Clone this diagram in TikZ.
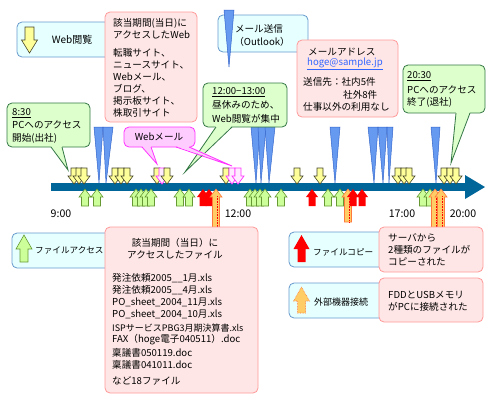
\documentclass[tikz,border=0pt]{standalone}
\usepackage{fontspec}
\setmainfont{Noto Sans CJK JP}
\definecolor{barc}{RGB}{0,102,153}
\definecolor{spikefill}{RGB}{102,153,240}
\definecolor{spikedraw}{RGB}{51,102,204}
\definecolor{yfill}{RGB}{255,255,153}
\definecolor{ydraw}{RGB}{70,70,40}
\definecolor{gfill}{RGB}{204,255,153}
\definecolor{gdraw}{RGB}{102,153,51}
\definecolor{ofill}{RGB}{255,204,102}
\definecolor{odraw}{RGB}{255,120,60}
\definecolor{legfill}{RGB}{230,255,255}
\definecolor{legdraw}{RGB}{102,153,204}
\definecolor{pinkfill}{RGB}{255,230,230}
\definecolor{pinkdraw}{RGB}{255,153,153}
\definecolor{calfill}{RGB}{221,255,204}
\definecolor{caldraw}{RGB}{51,119,68}
\definecolor{magfill}{RGB}{255,204,255}
\definecolor{magdraw}{RGB}{255,51,255}
\definecolor{maglight}{RGB}{255,235,255}
\definecolor{linkblue}{RGB}{51,102,255}
\newcommand{\ydn}[1]{\draw[ydraw,fill=yfill,line width=0.6pt] (#1-3,168) -- (#1+3,168) -- (#1+3,176) -- (#1+6,176) -- (#1,184) -- (#1-6,176) -- (#1-3,176) -- cycle;}
\newcommand{\mdn}[1]{\draw[magdraw,fill=maglight,line width=0.7pt] (#1-3,168) -- (#1+3,168) -- (#1+3,176) -- (#1+6,176) -- (#1,184) -- (#1-6,176) -- (#1-3,176) -- cycle;}
\newcommand{\gup}[1]{\draw[gdraw,fill=gfill,line width=0.6pt] (#1,189) -- (#1+6,197) -- (#1+3.5,197) -- (#1+3.5,206) -- (#1-3.5,206) -- (#1-3.5,197) -- (#1-6,197) -- cycle;}
\newcommand{\rup}[1]{\fill[red] (#1,189) -- (#1+6,197) -- (#1+3.5,197) -- (#1+3.5,206) -- (#1-3.5,206) -- (#1-3.5,197) -- (#1-6,197) -- cycle;}
\newcommand{\oup}[2]{\draw[odraw,fill=ofill,line width=0.6pt] (#1,189) -- (#1+6,197) -- (#1+3.5,197) -- (#1+3.5,#2) -- (#1-3.5,#2) -- (#1-3.5,197) -- (#1-6,197) -- cycle;
  \draw[red,densely dotted,line width=0.6pt] (#1+1,196) -- (#1+1,#2);}
\newcommand{\spk}[3]{\draw[spikedraw,fill=spikefill,line width=0.5pt] (#1,127) -- (#2,127) -- (#3,183) -- cycle;}
\begin{document}
\begin{tikzpicture}[x=1pt,y=-1pt,
  every node/.style={inner sep=0pt, font=\fontsize{9.6}{12}\selectfont},
  lt/.style={anchor=west},
  legbox/.style={draw=legdraw, fill=legfill, rounded corners=5pt, line width=0.8pt},
  pinkbox/.style={draw=pinkdraw, fill=pinkfill, rounded corners=5pt, line width=0.8pt},
  calbox/.style={draw=caldraw, fill=calfill, rounded corners=5pt, line width=0.8pt},
  magbox/.style={draw=magdraw, fill=magfill, rounded corners=5pt, line width=0.8pt},
  small/.style={font=\fontsize{8.6}{10}\selectfont},
  mid/.style={font=\fontsize{9}{11}\selectfont},
  timelab/.style={font=\fontsize{10.6}{12}\selectfont}]
\useasboundingbox (0,0) rectangle (490,400);
\fill[white] (0,0) rectangle (490,400);

% ---------- timeline bar ----------
\fill[barc] (51,183) rectangle (466,191);
\fill[barc] (465,175) -- (485,187) -- (465,199) -- cycle;

% ---------- mail spikes ----------
\spk{94}{103}{99}
\spk{103}{113}{106}
\spk{251}{260}{256}
\spk{258}{266}{261}
\spk{265}{275}{269}
\spk{330}{340}{335}
\spk{368}{378}{374}
\spk{378}{387}{383}
\spk{387}{393}{389}
\spk{431}{440}{436}

% ---------- web access arrows ----------
\ydn{74}\ydn{79}\ydn{84}
\ydn{115}\ydn{121}\ydn{127}
\ydn{157}\mdn{162}\ydn{167}
\ydn{226}\mdn{232}\mdn{238}
\ydn{297}
\ydn{320}
\ydn{398}\ydn{404}\ydn{409}
\ydn{444}\ydn{450}\ydn{456}

% ---------- file access / copy / device arrows ----------
\gup{85}\gup{97}
\gup{136}\gup{141}\gup{146}\gup{151}
\gup{180}\gup{189}
\rup{203}\rup{209}
\oup{216}{228}
\gup{250}\gup{255}\gup{260}\gup{265}
\gup{281}
\rup{312}
\gup{328}\gup{340}
\oup{348}{222}
\rup{353}\rup{362}
\gup{423}\gup{430}
\oup{435}{228}\oup{441}{228}

% ---------- time labels ----------
\node[timelab] (t9) at (61,214) {9:00};
\node[timelab] (t12) at (238,214) {12:00};
\node[timelab] (t17) at (402,214) {17:00};
\node[timelab] (t20) at (463,214) {20:00};

% ---------- legend: web ----------
\draw[legbox] (17,22) rectangle (118,57);
\draw[ydraw,fill=yfill,line width=0.6pt] (25,27) -- (34,27) -- (34,40) -- (37.5,40) -- (29.5,53) -- (21.5,40) -- (25,40) -- cycle;
\node[font=\fontsize{10}{12}\selectfont] (lweb) at (72,40) {Web閲覧};

% ---------- pink: web sites ----------
\draw[pinkbox] (105,12) rectangle (197,122);
\node[lt] (w1) at (113,23) {該当期間(当日)に};
\node[lt] (w2) at (113,35) {アクセスしたWeb};
\node[lt] (w3) at (113,53) {転職サイト、};
\node[lt] (w4) at (113,65) {ニュースサイト、};
\node[lt] (w5) at (113,77) {Webメール、};
\node[lt] (w6) at (113,89) {ブログ、};
\node[lt] (w7) at (113,101) {掲示板サイト、};
\node[lt] (w8) at (113,113) {株取引サイト};

% ---------- legend: mail ----------
\draw[legbox] (218,15) rectangle (308,52);
\node (lm1) at (259,29) {メール送信};
\node (lm2) at (262,42) {（Outlook）};
\draw[spikedraw,fill=spikefill,line width=0.5pt] (224,10) -- (234,10) -- (229,67) -- cycle;

% ---------- pink: mail address ----------
\draw[pinkbox] (297,40) rectangle (398,117);
\node[lt] (m1) at (308,52) {メールアドレス};
\node[lt] (m2) at (307,64) {\textcolor{linkblue}{\underline{hoge@sample.jp}}};
\node[lt] (m3) at (303,82) {送信先：社内5件};
\node[lt] (m4) at (343,95) {社外8件};
\node[lt] (m5) at (303,107) {仕事以外の利用なし};

% ---------- callout 8:30 ----------
\draw[calbox] (7,103) rectangle (90,147);
\coordinate (c1tip) at (68,170);
\fill[calfill] (51,146) -- (62,146) -- (c1tip) -- cycle;
\draw[caldraw,line width=0.8pt] (51,147) -- (c1tip) -- (62,147);
\node[lt] (c11) at (12,113) {\underline{8:30}};
\node[lt] (c12) at (12,125) {PCへのアクセス};
\node[lt] (c13) at (12,138) {開始(出社)};

% ---------- callout 12:00-13:00 ----------
\draw[calbox] (203,83) rectangle (287,127);
\coordinate (c2tip) at (185,172);
\fill[calfill] (216,126) -- (232,126) -- (c2tip) -- cycle;
\draw[caldraw,line width=0.8pt] (216,127) -- (c2tip) -- (232,127);
\node[lt] (c21) at (212,92) {\underline{12:00−13:00}};
\node[lt] (c22) at (212,105) {昼休みのため、};
\node[lt] (c23) at (212,119) {Web閲覧が集中};

% ---------- callout 20:30 ----------
\draw[calbox] (403,65) rectangle (485,113);
\coordinate (c3tip) at (451,163);
\fill[calfill] (456,112) -- (470,112) -- (c3tip) -- cycle;
\draw[caldraw,line width=0.8pt] (456,113) -- (c3tip) -- (470,113);
\node[lt] (c31) at (407,76) {\underline{20:30}};
\node[lt] (c32) at (407,90) {PCへのアクセス};
\node[lt] (c33) at (407,102) {終了(退社)};

% ---------- callout Webメール ----------
\draw[magbox] (124,127) rectangle (195,147);
\coordinate (wm1) at (157,164);
\coordinate (wm2) at (232,166);
\fill[magfill] (142,146) -- (151,146) -- (wm1) -- cycle;
\draw[magdraw,line width=0.8pt] (142,147) -- (wm1) -- (151,147);
\fill[magfill] (176,146) -- (189,146) -- (wm2) -- cycle;
\draw[magdraw,line width=0.8pt] (176,147) -- (wm2) -- (189,147);
\node (wm) at (159,137) {Webメール};

% ---------- legend: file access ----------
\draw[legbox] (12,233) rectangle (118,268);
\draw[gdraw,fill=gfill,line width=0.6pt] (24,235) -- (32,249) -- (28,249) -- (28,262) -- (20,262) -- (20,249) -- (16,249) -- cycle;
\node[lt,small] (lfa) at (35,250) {ファイルアクセス};

% ---------- pink: files ----------
\draw[pinkbox] (105,227) rectangle (258,393);
\node (f1) at (175,243) {該当期間（当日）に};
\node (f2) at (175,255) {アクセスしたファイル};
\node[lt] (f3) at (112,278) {発注依頼2005\_\_1月.xls};
\node[lt] (f4) at (112,290) {発注依頼2005\_\_4月.xls};
\node[lt] (f5) at (112,302) {PO\_sheet\_2004\_11月.xls};
\node[lt] (f6) at (112,314) {PO\_sheet\_2004\_10月.xls};
\node[lt,mid] (f7) at (112,328) {ISPサービスPBG3月期決算書.xls};
\node[lt] (f8) at (112,340) {FAX（hoge電子040511）.doc};
\node[lt] (f9) at (112,353) {稟議書050119.doc};
\node[lt] (f10) at (112,365) {稟議書041011.doc};
\node[lt] (f11) at (112,381) {など18ファイル};

% ---------- legend: file copy ----------
\draw[legbox] (289,232) rectangle (390,267);
\fill[red] (301.5,235) -- (309.5,249) -- (305.5,249) -- (305.5,262) -- (297.5,262) -- (297.5,249) -- (293.5,249) -- cycle;
\node[lt,small] (lfc) at (313,252) {ファイルコピー};
\draw[pinkbox] (379,227) rectangle (483,272);
\node[lt] (s1) at (388,238) {サーバから};
\node[lt] (s2) at (388,250) {2種類のファイルが};
\node[lt] (s3) at (388,262) {コピーされた};

% ---------- legend: external device ----------
\draw[legbox] (289,283) rectangle (390,318);
\draw[odraw,fill=ofill,line width=0.6pt,densely dotted] (301.5,287) -- (309.5,301) -- (305.5,301) -- (305.5,313) -- (297.5,313) -- (297.5,301) -- (293.5,301) -- cycle;
\node[lt,mid] (led) at (314,302) {外部機器接続};
\draw[pinkbox] (379,278) rectangle (483,322);
\node[lt] (d1) at (388,295) {FDDとUSBメモリ};
\node[lt] (d2) at (388,307) {がPCに接続された};
\end{tikzpicture}
\end{document}
